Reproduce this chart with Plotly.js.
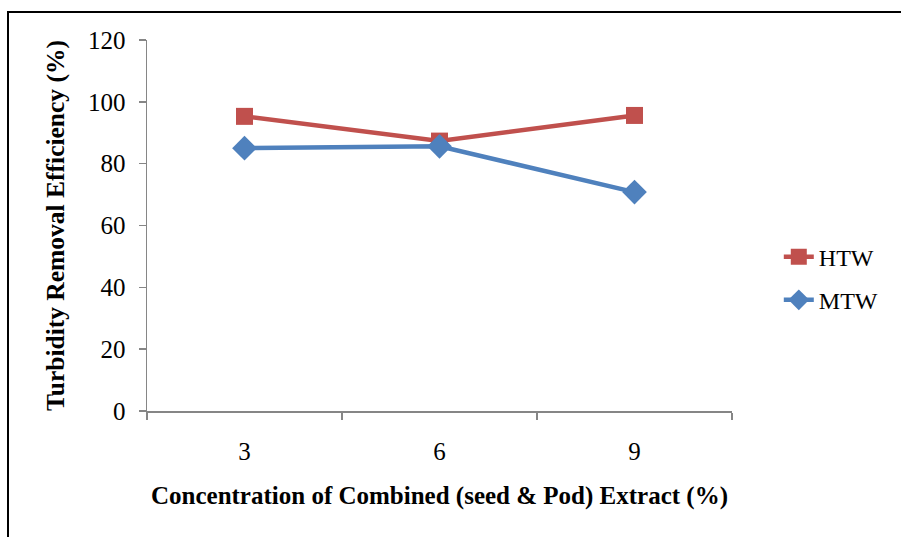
<!DOCTYPE html>
<html>
<head>
<meta charset="utf-8">
<script src="https://cdn.plot.ly/plotly-3.0.1.min.js"></script>
<style>
  html, body { margin: 0; padding: 0; background: #fff; }
  #wrap { position: relative; width: 901px; height: 537px; overflow: hidden; }
  #chart { position: absolute; left: 0; top: 0; width: 901px; height: 537px; }
  #frame { position: absolute; left: 7px; top: 11px; width: 1000px; height: 1000px;
           border: 2px solid #000; box-sizing: border-box; pointer-events: none; }
</style>
</head>
<body>
<div id="wrap">
  <div id="chart"></div>
  <div id="frame"></div>
</div>
<script>
// Combined seed & pod extract concentrations (%)
const concentrations = ['3', '6', '9'];
// Turbidity removal efficiency (%) per water sample
const htwValues = [95.3, 87.3, 95.6];
const mtwValues = [85.0, 85.6, 70.8];
const yTicks = [0, 20, 40, 60, 80, 100, 120];

const serif = 'Liberation Serif, Times New Roman, serif';

const traces = [
  {
    name: 'HTW', legendgroup: 'htw', x: concentrations, y: htwValues,
    type: 'scatter', mode: 'lines+markers',
    line: { color: '#C0504D', width: 4.5 },
    marker: { symbol: 'square', size: 17, color: '#C0504D' }
  },
  {
    name: 'MTW', legendgroup: 'mtw', x: concentrations, y: mtwValues,
    type: 'scatter', mode: 'lines+markers',
    line: { color: '#4F81BD', width: 4.5 },
    marker: { symbol: 'diamond', size: 19, color: '#4F81BD' }
  }
];

const layout = {
  width: 901, height: 537,
  margin: { l: 147, r: 169, t: 40, b: 126 },
  paper_bgcolor: '#fff', plot_bgcolor: '#fff',
  font: { family: serif, size: 25, color: '#000' },
  showlegend: true,
  legend: {
    x: 1.08, y: 0.357, xanchor: 'left', yanchor: 'middle',
    traceorder: 'grouped', tracegroupgap: 9,
    font: { family: serif, size: 24, color: '#000' }
  },
  xaxis: {
    type: 'category', range: [-0.5, 2.5],
    showline: true, linecolor: '#868686', linewidth: 1.5,
    ticks: 'outside', tickson: 'boundaries', ticklen: 7, tickcolor: '#868686', tickwidth: 1.5,
    showgrid: false, zeroline: false,
    tickfont: { family: serif, size: 25, color: '#000' },
    ticklabelstandoff: 17,
    title: { text: '<b>Concentration of Combined (seed &amp; Pod) Extract (%)</b>',
             font: { family: serif, size: 25, color: '#000' }, standoff: 23 }
  },
  yaxis: {
    range: [0, 120], tickvals: yTicks, ticktext: yTicks.map(String),
    showline: true, linecolor: '#868686', linewidth: 1.5,
    ticks: 'outside', ticklen: 7, tickcolor: '#868686', tickwidth: 1.5,
    showgrid: false, zeroline: false,
    tickfont: { family: serif, size: 25, color: '#000' },
    ticklabelstandoff: 8,
    title: { text: '<b>Turbidity Removal Efficiency (%)</b>',
             font: { family: serif, size: 25.5, color: '#000' }, standoff: 16 }
  }
};

Plotly.newPlot('chart', traces, layout, { staticPlot: true, displayModeBar: false });
</script>
</body>
</html>
